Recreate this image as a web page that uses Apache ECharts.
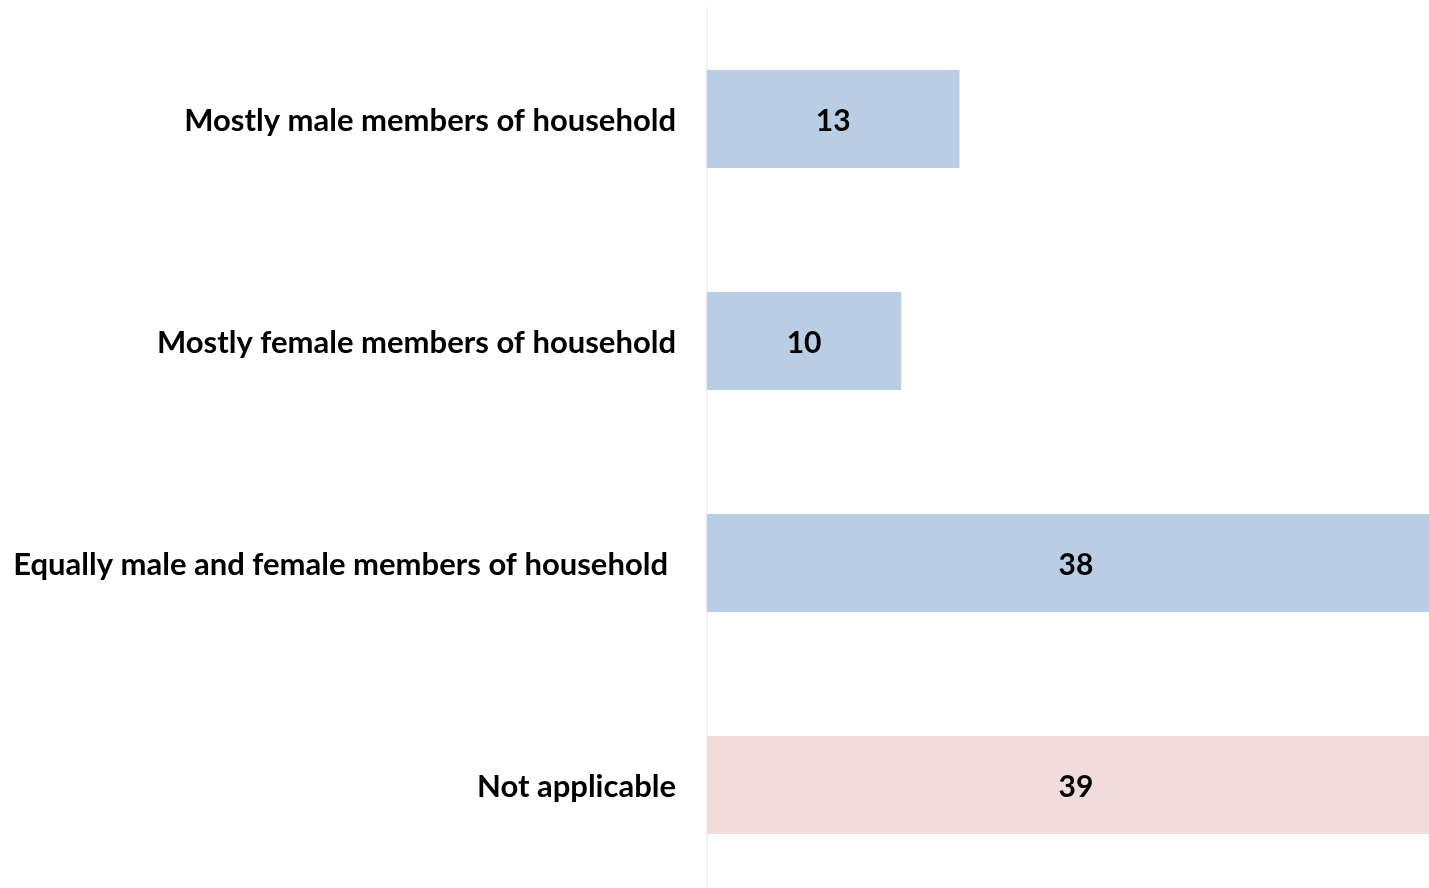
<!DOCTYPE html>
<html><head><meta charset="utf-8">
<script src="https://cdn.jsdelivr.net/npm/echarts@6/dist/echarts.min.js"></script>
<style>html,body{margin:0;padding:0;background:#fff;overflow:hidden}#c{width:1445px;height:896px}</style>
</head><body><div id="c"></div>
<script>
const categories = ["Mostly male members of household", "Mostly female members of household", "Equally male and female members of household", "Not applicable"];
const values = [13, 10, 38, 39];
const barColors = ["#B9CDE5", "#B9CDE5", "#B9CDE5", "#F2DCDB"];

const chart = echarts.init(document.getElementById('c'), null, {renderer: 'canvas'});
const lbl = {color: '#000', fontFamily: 'Lato', fontWeight: 'bold', fontSize: 31};
chart.setOption({
  animation: false,
  grid: {left: 707, right: 0, top: 8, bottom: 0, containLabel: false},
  xAxis: {type: 'value', min: 0, max: 38, show: false},
  yAxis: {
    type: 'category', data: categories, inverse: true,
    axisLine: {show: true, lineStyle: {color: '#F2F2F2', width: 2}},
    axisTick: {show: false},
    axisLabel: {
      margin: 31,
      formatter: (v, i) => (i === 2 ? '{w|' + v + '}' : '{n|' + v + '}'),
      rich: {
        n: Object.assign({padding: [4, 0, 0, 0]}, lbl),
        w: Object.assign({padding: [4, 8, 0, 0]}, lbl)
      }
    }
  },
  series: [{
    type: 'bar', barWidth: 98, clip: true,
    data: values.map((v, i) => ({value: v, itemStyle: {color: barColors[i]}})),
    label: {show: true, position: 'inside', offset: [0, 2], color: '#000', fontFamily: 'Lato', fontWeight: 'bold', fontSize: 30}
  }]
});
</script></body></html>
